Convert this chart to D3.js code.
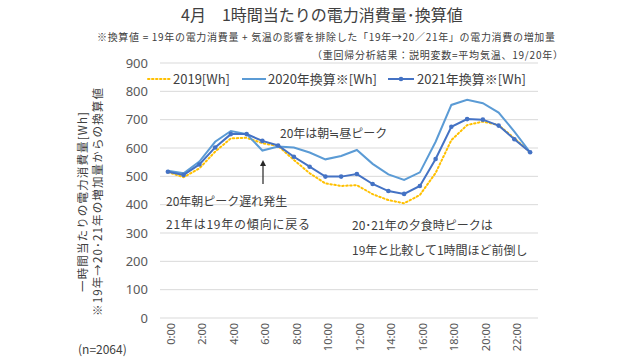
<!DOCTYPE html>
<html>
<head>
<meta charset="utf-8">
<script src="https://cdn.jsdelivr.net/npm/d3@7"></script>
<style>
  body { margin: 0; background: #fff; }
  svg { font-family: "Noto Sans CJK JP", "Noto Sans", sans-serif; }
</style>
</head>
<body>
<svg id="chart"></svg>
<script>
var hours = d3.range(24);
var yTicks = [0,100,200,300,400,500,600,700,800,900];

var v2019 = [515,497,528,587,634,636,617,607,558,511,475,466,469,437,416,405,434,512,628,681,693,681,634,585];
var v2020 = [520,511,552,622,660,649,591,605,602,584,560,572,593,544,507,487,514,622,752,770,758,725,658,585];
var v2021 = [516,505,542,602,649,649,625,609,569,534,499,499,508,473,448,438,466,561,675,702,700,679,631,585];

var width = 640, height = 360;
var margin = {top: 63, right: 102, bottom: 42, left: 160};

var svg = d3.select('#chart')
    .attr('width', width)
    .attr('height', height);

var innerW = width - margin.left - margin.right;
var innerH = height - margin.top - margin.bottom;

var chart = svg.append('g')
    .attr('transform', `translate(${margin.left}, ${margin.top})`);

var xscale = d3.scaleBand().domain(hours).range([0, innerW]);
var yscale = d3.scaleLinear().domain([0, 900]).range([innerH, 0]);
var xc = d => xscale(d) + xscale.bandwidth() / 2;

// gridlines
chart.selectAll('.grid').data(yTicks).enter().append('line')
    .attr('x1', 0).attr('x2', innerW)
    .attr('y1', d => yscale(d)).attr('y2', d => yscale(d))
    .attr('stroke', '#d9d9d9').attr('stroke-width', 1);

// y axis
var yaxis = chart.append('g')
    .call(d3.axisLeft(yscale).tickValues(yTicks).tickSize(0).tickPadding(12));
yaxis.select('.domain').remove();
yaxis.selectAll('text').attr('font-size', 13).attr('fill', '#595959')
    .style('font-family', '"Noto Sans", sans-serif');

// x axis
var xaxis = chart.append('g')
    .attr('transform', `translate(0, ${innerH})`)
    .call(d3.axisBottom(xscale).tickValues(d3.range(0, 24, 2))
        .tickFormat(d => d + ':00').tickSize(0));
xaxis.select('.domain').remove();
xaxis.selectAll('text')
    .attr('font-size', 11).attr('fill', '#595959')
    .style('font-family', '"Noto Sans", sans-serif')
    .attr('text-anchor', 'end')
    .attr('dx', 0).attr('dy', 0)
    .attr('transform', 'translate(4, 5) rotate(-90)');

var line = d3.line()
    .x((d, i) => xc(hours[i]))
    .y(d => yscale(d));

chart.append('path').attr('d', line(v2019))
    .attr('fill', 'none').attr('stroke', '#ffc000').attr('stroke-width', 2)
    .attr('stroke-dasharray', '1.5,2.5').attr('stroke-linecap', 'round');

chart.append('path').attr('d', line(v2020))
    .attr('fill', 'none').attr('stroke', '#5b9bd5').attr('stroke-width', 2);

chart.append('path').attr('d', line(v2021))
    .attr('fill', 'none').attr('stroke', '#4472c4').attr('stroke-width', 2);

chart.selectAll('.pt').data(v2021).enter().append('circle')
    .attr('cx', (d, i) => xc(hours[i])).attr('cy', d => yscale(d))
    .attr('r', 2.3).attr('fill', '#4472c4');

// legend
var lg = svg.append('g').attr('font-size', 13).attr('fill', '#404040');
lg.append('line').attr('x1', 148).attr('x2', 170).attr('y1', 79).attr('y2', 79)
    .attr('stroke', '#ffc000').attr('stroke-width', 2)
    .attr('stroke-dasharray', '1.5,2.5').attr('stroke-linecap', 'round');
lg.append('text').attr('x', 173).attr('y', 84).text('2019[Wh]');
lg.append('line').attr('x1', 242).attr('x2', 266).attr('y1', 79).attr('y2', 79)
    .attr('stroke', '#5b9bd5').attr('stroke-width', 2);
lg.append('text').attr('x', 268).attr('y', 84).text('2020年換算※[Wh]');
lg.append('line').attr('x1', 388).attr('x2', 414).attr('y1', 79).attr('y2', 79)
    .attr('stroke', '#4472c4').attr('stroke-width', 2);
lg.append('circle').attr('cx', 401).attr('cy', 79).attr('r', 2.3).attr('fill', '#4472c4');
lg.append('text').attr('x', 417).attr('y', 84).text('2021年換算※[Wh]');

// titles
svg.append('text').attr('x', 322).attr('y', 21).attr('text-anchor', 'middle')
    .attr('font-size', 16).attr('fill', '#404040')
    .text('4月　1時間当たりの電力消費量･換算値');
svg.append('text').attr('x', 97).attr('y', 41)
    .attr('font-size', 10).attr('fill', '#404040')
    .attr('textLength', 458).attr('lengthAdjust', 'spacing')
    .text('※換算値 = 19年の電力消費量 + 気温の影響を排除した「19年→20／21年」の電力消費の増加量');
svg.append('text').attr('x', 312).attr('y', 59)
    .attr('font-size', 10).attr('fill', '#404040')
    .attr('textLength', 251).attr('lengthAdjust', 'spacing')
    .text('（重回帰分析結果：説明変数=平均気温、19/20年）');

// y axis title
var yt = svg.append('g').attr('font-size', 11.5).attr('fill', '#404040');
yt.append('text').attr('transform', 'translate(87, 202) rotate(-90)')
    .attr('text-anchor', 'middle')
    .attr('textLength', 180).attr('lengthAdjust', 'spacing')
    .text('一時間当たりの電力消費量[Wh]');
yt.append('text').attr('transform', 'translate(102, 202) rotate(-90)')
    .attr('text-anchor', 'middle')
    .attr('textLength', 228).attr('lengthAdjust', 'spacing')
    .text('※19年→20･21年の増加量からの換算値');

svg.append('text').attr('x', 78).attr('y', 354).attr('font-size', 12).attr('fill', '#404040')
    .text('(n=2064)');

// annotations
var an = svg.append('g').attr('font-size', 12).attr('fill', '#404040');
an.append('text').attr('x', 280).attr('y', 138).text('20年は朝≒昼ピーク');
an.append('text').attr('x', 166).attr('y', 206).text('20年朝ピーク遅れ発生');
an.append('text').attr('x', 166).attr('y', 229)
    .attr('textLength', 144).attr('lengthAdjust', 'spacing').text('21年は19年の傾向に戻る');
an.append('text').attr('x', 352).attr('y', 230).text('20･21年の夕食時ピークは');
an.append('text').attr('x', 352).attr('y', 255).text('19年と比較して1時間ほど前倒し');

svg.append('line').attr('x1', 263).attr('x2', 263).attr('y1', 184).attr('y2', 164)
    .attr('stroke', '#262626').attr('stroke-width', 1.2);
svg.append('path').attr('d', 'M263,160 L260,166 L266,166 Z').attr('fill', '#262626');
</script>
</body>
</html>
